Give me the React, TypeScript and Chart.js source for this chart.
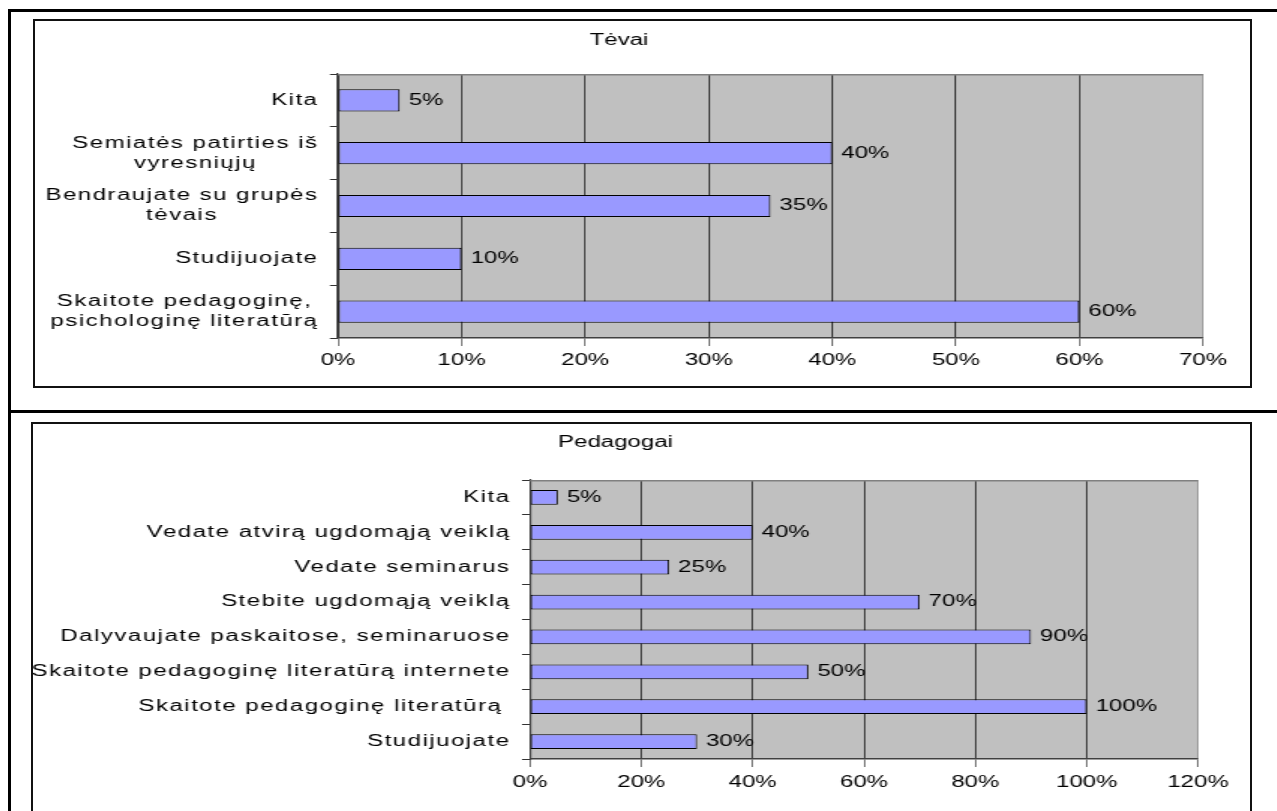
import React, { useEffect, useRef } from "react";
import { Chart, registerables } from "chart.js";

Chart.register(...registerables);

// ---------- data ----------
const parentsTitle = "Tėvai";
const parentsCategories: string[][] = [
  ["Kita"],
  ["Semiatės patirties iš", "vyresniųjų"],
  ["Bendraujate su grupės", "tėvais"],
  ["Studijuojate"],
  ["Skaitote pedagoginę,", "psichologinę literatūrą"],
];
const parentsValues = [5, 40, 35, 10, 60];
const parentsAxisMax = 70;
const parentsAxisStep = 10;

const teachersTitle = "Pedagogai";
const teachersCategories: string[][] = [
  ["Kita"],
  ["Vedate atvirą ugdomąją veiklą"],
  ["Vedate seminarus"],
  ["Stebite ugdomąją veiklą"],
  ["Dalyvaujate paskaitose, seminaruose"],
  ["Skaitote pedagoginę literatūrą internete"],
  ["Skaitote pedagoginę literatūrą "],
  ["Studijuojate"],
];
const teachersValues = [5, 40, 25, 70, 90, 50, 100, 30];
const teachersAxisMax = 120;
const teachersAxisStep = 20;

// ---------- styling ----------
const S = 1.5; // horizontal stretch of the original picture
const FONT = "'Liberation Sans', Arial, sans-serif";
const FS = 16;
const LABEL_SPACING = 1; // extra letter spacing for category labels (logical px)
const BAR_FILL = "#9999FF";
const PLOT_BG = "#C0C0C0";

type ChartSpec = {
  title: string;
  categories: string[][];
  values: number[];
  max: number;
  step: number;
  width: number;
  height: number;
  yWidth: number;
  padRight: number;
  xHeight: number;
  titleTop: number;
  titleBottom: number;
  tickPad: number;
};

function makeConfig(spec: ChartSpec): any {
  const bgPlugin = {
    id: "plotBg",
    beforeDraw(chart: any) {
      const { ctx, chartArea: a } = chart;
      ctx.save();
      ctx.fillStyle = PLOT_BG;
      ctx.fillRect(a.left, a.top, a.right - a.left, a.bottom - a.top);
      ctx.restore();
    },
    afterDraw(chart: any) {
      const { ctx, chartArea: a } = chart;
      ctx.save();
      ctx.strokeStyle = "#808080";
      ctx.lineWidth = 1.5;
      ctx.beginPath();
      ctx.moveTo(a.left, a.top + 0.75);
      ctx.lineTo(a.right, a.top + 0.75);
      ctx.stroke();
      ctx.restore();
    },
  };

  const labelPlugin = {
    id: "labels",
    afterDatasetsDraw(chart: any) {
      const { ctx } = chart;
      const meta = chart.getDatasetMeta(0);
      ctx.save();
      ctx.font = `${FS}px ${FONT}`;
      ctx.fillStyle = "#000";
      ctx.textAlign = "left";
      ctx.textBaseline = "middle";
      meta.data.forEach((bar: any, i: number) => {
        ctx.fillText(`${spec.values[i]}%`, bar.x + 6, bar.y);
      });
      ctx.restore();
    },
    afterDraw(chart: any) {
      const { ctx, chartArea } = chart;
      const yScale = chart.scales.y;
      const rightEdge = chartArea.left - 14;
      const lh = 20;
      const anyCtx = ctx as any;
      const hasSpacing = "letterSpacing" in anyCtx;
      ctx.save();
      ctx.font = `${FS}px ${FONT}`;
      ctx.fillStyle = "#000";
      ctx.textAlign = "left";
      ctx.textBaseline = "middle";
      if (hasSpacing) anyCtx.letterSpacing = "0px";
      const widthOf = (l: string) => {
        const n = Array.from(l).length;
        return ctx.measureText(l).width + (n - 1) * LABEL_SPACING;
      };
      const widthsAll = spec.categories.map((lines) => lines.map(widthOf));
      if (hasSpacing) anyCtx.letterSpacing = `${LABEL_SPACING}px`;
      const drawSpaced = (l: string, x: number, y: number) => {
        if (hasSpacing) {
          ctx.fillText(l, x, y);
          return;
        }
        let cx = x;
        for (const ch of Array.from(l)) {
          ctx.fillText(ch, cx, y);
          cx += ctx.measureText(ch).width + LABEL_SPACING;
        }
      };
      spec.categories.forEach((lines, i) => {
        const y = yScale.getPixelForValue(i);
        const widths = widthsAll[i];
        const w = Math.max(...widths);
        const cx = rightEdge - w / 2;
        const y0 = y - ((lines.length - 1) * lh) / 2;
        lines.forEach((l, k) => drawSpaced(l, cx - widths[k] / 2, y0 + k * lh));
      });
      ctx.restore();
    },
  };

  return {
    type: "bar",
    data: {
      labels: spec.categories.map((l) => l.join(" ")),
      datasets: [
        {
          data: spec.values,
          backgroundColor: BAR_FILL,
          borderColor: "#000",
          borderWidth: 1,
          borderSkipped: false,
          barPercentage: 0.42,
          categoryPercentage: 1,
        },
      ],
    },
    options: {
      indexAxis: "y",
      responsive: false,
      animation: false,
      events: [],
      layout: { padding: { left: 0, right: spec.padRight, top: 0, bottom: 0 } },
      plugins: {
        legend: { display: false },
        tooltip: { enabled: false },
        title: {
          display: true,
          text: spec.title,
          color: "#000",
          font: { family: FONT, size: FS, weight: "normal" },
          padding: { top: spec.titleTop, bottom: spec.titleBottom },
        },
      },
      scales: {
        x: {
          type: "linear",
          min: 0,
          max: spec.max,
          ticks: {
            stepSize: spec.step,
            color: "#000",
            font: { family: FONT, size: FS },
            padding: spec.tickPad,
            maxRotation: 0,
            autoSkip: false,
            callback: (v: any) => `${v}%`,
          },
          grid: {
            color: (c: any) => (c.tick && c.tick.value === spec.max ? "#808080" : "#000"),
            lineWidth: 0.7,
            tickLength: 8,
            tickColor: "#333",
          },
          border: { color: "#404040", width: 1.5 },
          afterFit: (s: any) => {
            s.height = spec.xHeight;
          },
        },
        y: {
          ticks: { display: false },
          grid: {
            drawOnChartArea: false,
            drawTicks: true,
            tickLength: 5.33,
            color: "#333",
            tickColor: "#333",
            offset: true,
            lineWidth: 1,
          },
          border: { color: "#404040", width: 1.2 },
          afterFit: (s: any) => {
            s.width = spec.yWidth;
          },
        },
      },
    },
    plugins: [bgPlugin, labelPlugin],
  };
}

function BarPanel({ spec, left, top }: { spec: ChartSpec; left: number; top: number }) {
  const ref = useRef<HTMLCanvasElement | null>(null);
  useEffect(() => {
    if (!ref.current) return;
    const chart = new Chart(ref.current, makeConfig(spec));
    return () => chart.destroy();
  }, []);
  return (
    <canvas
      ref={ref}
      width={spec.width}
      height={spec.height}
      style={{
        position: "absolute",
        left,
        top,
        width: spec.width + "px",
        height: spec.height + "px",
        transform: `scaleX(${S})`,
        transformOrigin: "0 0",
      }}
    />
  );
}

const parentsSpec: ChartSpec = {
  title: parentsTitle,
  categories: parentsCategories,
  values: parentsValues,
  max: parentsAxisMax,
  step: parentsAxisStep,
  width: 809,
  height: 365,
  yWidth: 202,
  padRight: 30.33,
  xHeight: 48,
  titleTop: 10.4,
  titleBottom: 23.4,
  tickPad: 5,
};

const teachersSpec: ChartSpec = {
  title: teachersTitle,
  categories: teachersCategories,
  values: teachersValues,
  max: teachersAxisMax,
  step: teachersAxisStep,
  width: 811,
  height: 387,
  yWidth: 331.33,
  padRight: 34.33,
  xHeight: 52,
  titleTop: 9.4,
  titleBottom: 27.4,
  tickPad: 6.4,
};

export default function App() {
  const line = (l: number, t: number, w: number, h: number): React.CSSProperties => ({
    position: "absolute",
    left: l,
    top: t,
    width: w,
    height: h,
    background: "#000",
  });
  return (
    <div
      style={{
        position: "fixed",
        left: 0,
        top: 0,
        width: 1277,
        height: 811,
        overflow: "hidden",
        background: "#fff",
      }}
    >
      {/* outer frame */}
      <div style={line(8, 9, 1269, 3)} />
      <div style={line(8, 9, 3, 802)} />
      <div style={line(8, 410, 1269, 3)} />
      {/* chart boxes */}
      <div
        style={{
          position: "absolute",
          left: 33,
          top: 19,
          width: 1219,
          height: 369,
          boxSizing: "border-box",
          border: "2px solid #111",
        }}
      />
      <div
        style={{
          position: "absolute",
          left: 31,
          top: 422,
          width: 1221,
          height: 389,
          boxSizing: "border-box",
          borderTop: "2px solid #111",
          borderLeft: "2px solid #111",
          borderRight: "2px solid #111",
        }}
      />
      <BarPanel spec={parentsSpec} left={35} top={21} />
      <BarPanel spec={teachersSpec} left={33} top={424} />
    </div>
  );
}
